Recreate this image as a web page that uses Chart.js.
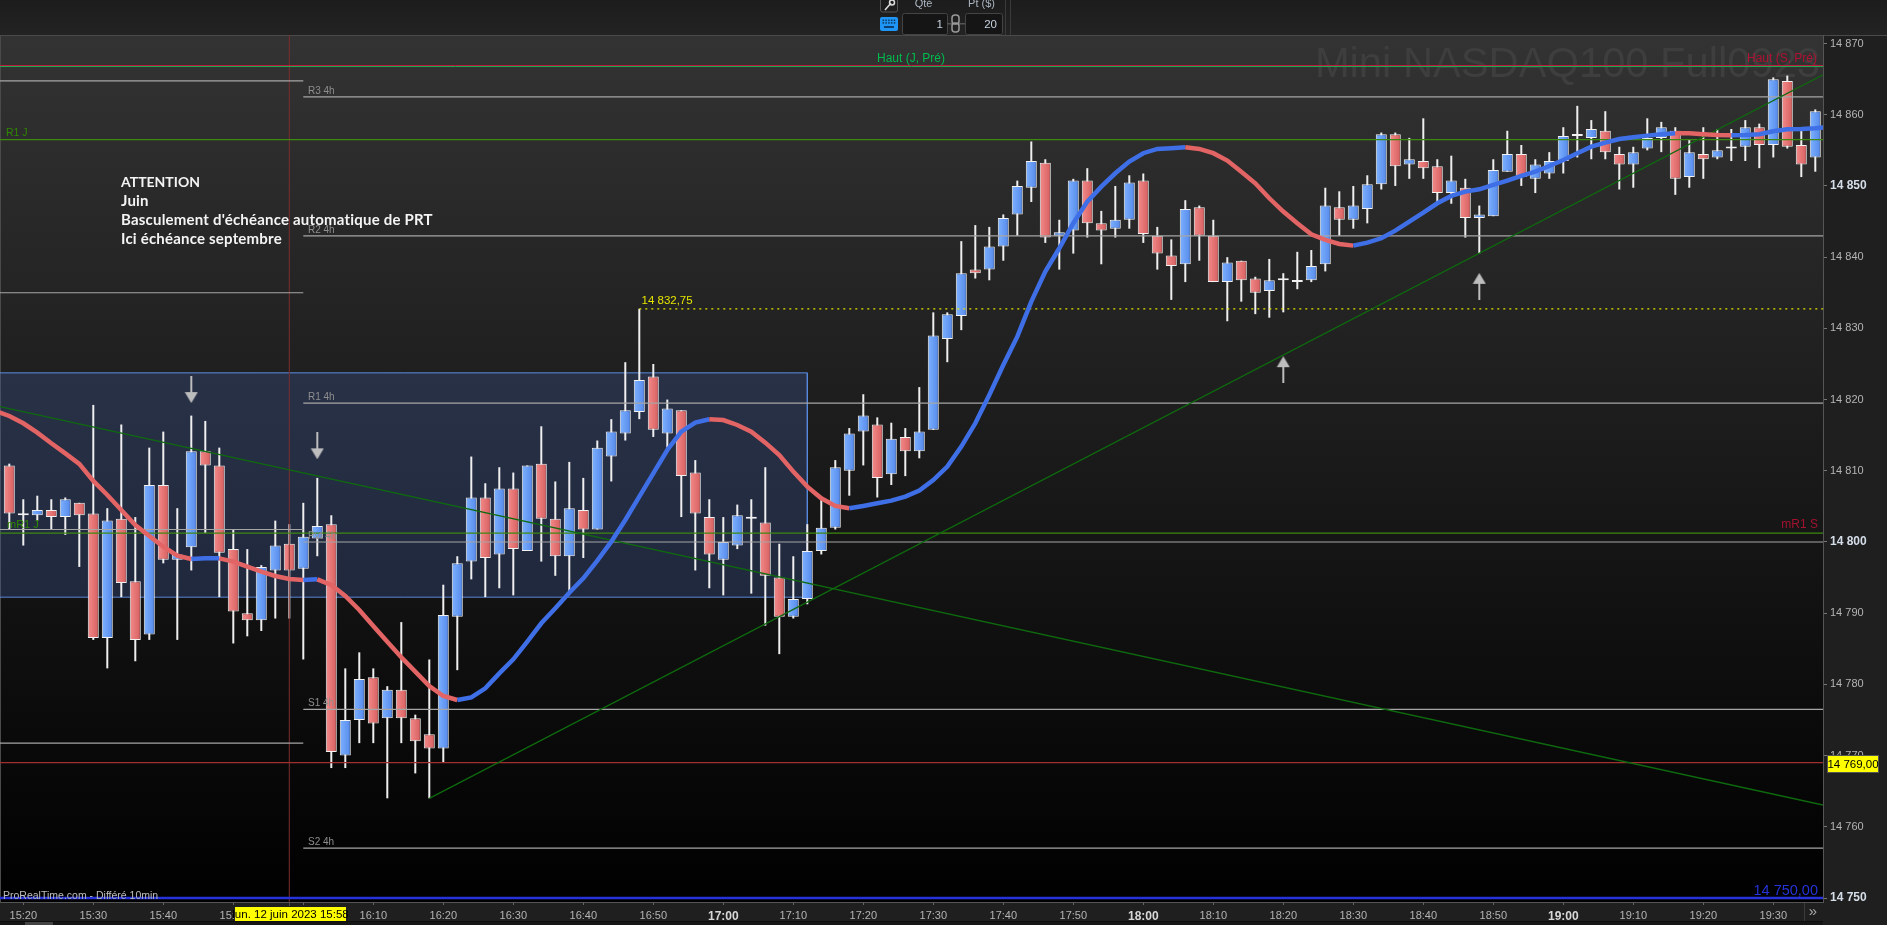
<!DOCTYPE html>
<html><head><meta charset="utf-8">
<style>html,body{margin:0;padding:0;background:#1f1f1f;overflow:hidden}canvas{display:block}</style>
<script src="https://cdn.jsdelivr.net/npm/chart.js@4"></script>
</head><body><canvas id="c" width="1887" height="925" style="width:1887px;height:925px"></canvas>
<script>
const opens=[14810.75,14804,14803.75,14804.5,14803.5,14805.5,14804,14786.5,14803.25,14794.5,14787,14808,14797.5,14799.25,14812.75,14810.75,14799,14790,14789,14796,14799.75,14796.25,14800.5,14802.5,14770,14775,14781,14775.25,14779.25,14775.25,14773,14771,14789.5,14797.25,14806.25,14798.25,14807.5,14798.75,14811,14803.25,14798,14804.5,14801.75,14812,14815.25,14818.25,14823.25,14815.25,14818.5,14809.75,14803.5,14797.5,14799.5,14803.25,14802.75,14795,14789.5,14792,14798.75,14802,14810,14815.5,14816.5,14809.5,14814.75,14812.75,14815.75,14828.5,14831.75,14838.25,14838.25,14841.5,14846,14849.75,14853.25,14843,14843.75,14850.75,14844.75,14844,14845.25,14850.75,14843,14840.25,14839,14847,14843,14836.5,14839.5,14837,14835.25,14836.75,14836.5,14836.75,14839,14847,14845.25,14846.75,14850.25,14857.25,14853,14853.5,14852.75,14849,14849.75,14845.5,14845.75,14852,14854.5,14851,14851.75,14853.5,14857,14856.75,14857.75,14854.5,14853,14855.25,14856.75,14857.75,14851.25,14854.5,14854,14855.25,14855.5,14858.25,14855.75,14864.75,14855.75,14854];
const highs=[14811,14806,14806.5,14806,14806.25,14805.5,14819.25,14804.75,14816.5,14803.5,14813.25,14815.5,14804.75,14817.75,14817,14813.25,14801.75,14799,14796.75,14803,14802.5,14805.5,14809,14803.75,14782.25,14784.5,14782.25,14779.75,14788.75,14775.75,14783.5,14794,14798,14812,14808.25,14810.5,14809.75,14810.75,14816.25,14808.5,14811.25,14809,14814.25,14817.25,14825.25,14832.75,14825,14820,14818.5,14811.5,14806,14803.5,14805.25,14806,14810.5,14799.75,14798,14802.5,14806,14811.5,14816,14820.75,14817.5,14816.75,14816,14821.75,14832.25,14832.25,14842.25,14844.5,14844.25,14846,14850.75,14856.25,14853.75,14845.25,14851,14852.5,14846.5,14850,14851.5,14851.75,14844.25,14842.5,14848,14847.25,14845.25,14840,14839.5,14837.25,14839.75,14837.75,14840.75,14841,14849.75,14849.25,14850,14851.5,14857.5,14857.5,14856.75,14859.5,14853.75,14854.25,14851,14847.25,14853.75,14857.75,14855.75,14853.75,14854.75,14858.25,14861.25,14859.25,14860.5,14855.5,14855.5,14859.5,14859,14858.25,14856.5,14858.25,14858,14858,14859.25,14858.75,14865.25,14865.5,14858.25,14860.75];
const lows=[14801.75,14799.5,14803,14801.75,14801,14796.5,14786.25,14782.25,14792.25,14783.25,14786.25,14797,14786.25,14796,14801.25,14792.25,14785.75,14786.75,14787.5,14789.25,14789.25,14783.5,14798,14768.25,14768.25,14771.75,14771.75,14764,14771.75,14767.5,14764,14769,14782,14794.75,14792.25,14793.5,14792.5,14798.75,14797.25,14795.25,14793,14797.75,14801.75,14808.5,14814.25,14817.25,14814.75,14813.25,14803.5,14796,14793.5,14792.5,14799,14792.75,14788.25,14784.25,14789.25,14791.25,14798.25,14801.75,14806.5,14810.75,14806.25,14808,14809.25,14811.75,14815.75,14825.25,14829.75,14837,14836.75,14839.5,14843,14847.75,14842,14838.25,14840.5,14842.75,14839,14842.75,14844,14842,14838.25,14834,14836.5,14839.5,14836.5,14831,14833.75,14832,14831.5,14832.25,14835.5,14836.5,14838,14843,14844,14844.75,14849.5,14850,14851,14851,14847.5,14847.5,14842.75,14840.5,14845.75,14852,14850,14849,14851,14851.75,14854,14853.75,14853.75,14849.5,14849.75,14855,14854.75,14848.75,14849.75,14851,14853.75,14853.5,14853.5,14852.5,14854,14855.25,14851.25,14852];
const closes=[14804,14803.75,14804.5,14803.5,14806,14803.75,14786.5,14803,14794.25,14786.25,14808,14797.5,14798.25,14812.75,14810.75,14798.5,14790.25,14789,14796.5,14799.5,14796,14800.75,14802.25,14770.5,14775,14780.75,14774.5,14779.25,14775.25,14772,14771,14789.75,14797,14806.25,14797.75,14807.5,14799,14810.75,14803.25,14798,14804.75,14801.75,14813.25,14815.5,14818.5,14822.75,14815.75,14818.75,14809.25,14804,14798.25,14800,14803.75,14803.5,14795.25,14789.5,14792,14798.75,14802,14810.5,14815.25,14817.75,14809,14814.5,14812.75,14815.5,14829,14832,14837.75,14837.75,14841.5,14845.5,14850,14853.5,14842.75,14843.5,14850.75,14844.75,14843.75,14845.25,14850.5,14843.25,14840.5,14838.75,14846.75,14843,14836.5,14839.25,14836.75,14835,14836.75,14836.75,14836.5,14838.75,14847.25,14845.25,14847.25,14850.25,14857.25,14852.75,14853.75,14852.5,14849,14850.75,14845.5,14846,14852.25,14854.5,14851.25,14853,14853.5,14857,14857,14858,14854.75,14853,14854.75,14856.75,14858.25,14851,14854.75,14853.75,14855,14855.5,14858.25,14855.75,14865,14855.5,14853,14860.5];
// moving average: first value sits one bar before the first candle, last value one bar after the last candle
const maValues=[14818.4,14817.7,14816.67,14815.36,14813.86,14812.45,14810.96,14808.57,14806.6,14804.5,14802.39,14800.84,14799.34,14798.08,14797.61,14797.7,14797.7,14797.24,14796.54,14795.83,14795.22,14794.8,14794.66,14794.76,14793.96,14792.42,14790.45,14788.2,14786,14783.8,14781.79,14779.78,14778.37,14777.81,14778.18,14779.45,14781.55,14783.52,14786,14788.58,14790.68,14792.88,14794.9,14797.38,14800.05,14803.09,14806.37,14809.64,14812.92,14815.5,14816.76,14817.23,14817.13,14816.43,14815.5,14813.95,14812.22,14809.88,14807.77,14806.13,14805.06,14804.73,14805.06,14805.43,14805.81,14806.37,14807.21,14808.7,14810.58,14813.39,14816.67,14820.65,14824.86,14828.84,14833.75,14837.97,14841.25,14844.76,14847.8,14849.9,14851.78,14853.42,14854.6,14855.2,14855.3,14855.43,14855.2,14854.6,14853.56,14852,14850.37,14848.27,14846.4,14844.76,14843.2,14842.42,14841.85,14841.62,14842.04,14842.65,14843.73,14845,14846.25,14847.57,14848.6,14849.2,14849.53,14850.14,14850.75,14851.4,14852.01,14852.8,14853.65,14854.59,14855.52,14856.09,14856.6,14856.84,14857.07,14857.26,14857.4,14857.4,14857.26,14857.16,14857.12,14857.16,14857.26,14857.68,14857.96,14858,14858.1,14858.3];
const maBlueRanges=[[13,15],[21,22],[32,50],[60,84],[96,119],[123,130]];
const xTickLabels=['15:20','15:30','15:40','15:50','16:00','16:10','16:20','16:30','16:40','16:50','17:00','17:10','17:20','17:30','17:40','17:50','18:00','18:10','18:20','18:30','18:40','18:50','19:00','19:10','19:20','19:30'];
const xBoldLabels=['17:00','18:00','19:00'];
const yTickValues=[14750,14760,14770,14780,14790,14800,14810,14820,14830,14840,14850,14860,14870];
const yTickLabels=['14 750','14 760','14 770','14 780','14 790','14 800','14 810','14 820','14 830','14 840','14 850','14 860','14 870'];
const yBoldValues=[14750,14800,14850];
const hautJ=14866.77, hautS=14866.91, r1J=14856.5, mr1J=14801.25, support=14769, floorLine=14750, topHigh=14832.75;
const pivot4hNames=['R3 4h','R2 4h','R1 4h','Pvt 4h','S1 4h','S2 4h'];
const pivot4hPrices=[14862.5,14843,14819.5,14800,14776.5,14757];
const oldPivotPrices=[14864.75,14835,14801.75,14771.75];
const boxPrices=[14823.75,14792.25];
const boxEndBar=57, crossBar=20, pivotStartBar=21;
const trendDownBars=[-0.66,129.55], trendDownPrices=[14819,14763.06];
const trendUpBars=[30,129.55], trendUpPrices=[14764,14865.6];
const arrowDownBars=[13,22], arrowDownPrices=[14821.4,14813.5];
const arrowUpBars=[91,105], arrowUpPrices=[14824.2,14835.9];
const noteLines=['ATTENTION','Juin',"Basculement d'échéance automatique de PRT",'Ici échéance septembre'];

const barIdx=opens.map((_,i)=>i);
const FONT='"Liberation Sans", Arial, sans-serif';
const BLUE_A='#7db2ff',BLUE_B='#5488ea',RED_A='#f48b8b',RED_B='#d65e5e';
function isBlueSeg(i){return maBlueRanges.some(r=>i>=r[0]&&i<r[1]);}
function seg(xs,ys,color,width,extra){return Object.assign({type:'line',data:xs.map((x,k)=>({x,y:ys[k]})),borderColor:color,borderWidth:width,pointRadius:0,tension:0,fill:false,order:5},extra||{});}
function makeArrow(up){
  const c=document.createElement('canvas');c.width=14;c.height=27;const g=c.getContext('2d');
  g.fillStyle='#bdbdbd';
  if(up){g.beginPath();g.moveTo(7,0);g.lineTo(13.5,11);g.lineTo(0.5,11);g.closePath();g.fill();g.fillRect(6,11,2,16);}
  else{g.fillRect(6,0,2,16);g.beginPath();g.moveTo(7,27);g.lineTo(13.5,16);g.lineTo(0.5,16);g.closePath();g.fill();}
  return c;
}
function bodyFill(ctx){
  const i=ctx.dataIndex, ch=ctx.chart;
  if(i===undefined) return BLUE_A;
  if(opens[i]===closes[i]) return '#f2f2f2';
  const up=closes[i]>opens[i];
  const px=ch.scales.x?ch.scales.x.getPixelForValue(i):NaN;
  if(!Number.isFinite(px)) return up?BLUE_A:RED_A;
  const g=ch.ctx.createLinearGradient(px-5.5,0,px+5.5,0);
  g.addColorStop(0,up?BLUE_A:RED_A);g.addColorStop(1,up?BLUE_B:RED_B);
  return g;
}
const isBoldX=c=>c.tick&&xBoldLabels.includes(xTickLabels[(c.tick.value-1)/5]);
const isBoldY=c=>c.tick&&yBoldValues.includes(c.tick.value);
const datasets=[
  {type:'bar',data:barIdx.map(i=>({x:i,y:[opens[i],closes[i]]})),backgroundColor:bodyFill,borderColor:'#f2f2f2',borderWidth:1,borderSkipped:false,barThickness:11,minBarLength:2,inflateAmount:0,grouped:false,order:10},
  {type:'bar',data:barIdx.map(i=>({x:i,y:[lows[i],highs[i]]})),backgroundColor:'#efefef',borderWidth:0,barThickness:2,inflateAmount:0,grouped:false,order:11},
  seg([-1,boxEndBar],[boxPrices[0],boxPrices[0]],'#5b8de0',1,{fill:{value:boxPrices[1]},backgroundColor:'rgba(66,92,165,0.30)',order:20}),
  seg([boxEndBar,boxEndBar,-1],[boxPrices[0],boxPrices[1],boxPrices[1]],'#5b8de0',1,{order:20}),
  seg([crossBar,crossBar],[14740,14880],'#7c2e2e',1,{order:6}),
  seg([-1,131],[hautS,hautS],'#c4163a',1),
  seg([-1,131],[hautJ,hautJ],'#17b354',1),
  seg([-1,131],[r1J,r1J],'#3c8a10',1.2),
  seg([-1,131],[mr1J,mr1J],'#3c8a10',1.2),
  seg([-1,131],[support,support],'#a03030',1.2),
  seg([-1,131],[floorLine,floorLine],'#2533d8',2.6),
  seg([45,131],[topHigh,topHigh],'#e4e400',1.2,{borderDash:[2,4]}),
  ...pivot4hPrices.map(p=>seg([pivotStartBar,131],[p,p],'#a6a6a6',1.2)),
  ...oldPivotPrices.map(p=>seg([-1,pivotStartBar],[p,p],'#a6a6a6',1.2)),
  seg(trendDownBars,trendDownPrices,'#0e6a0e',1.3,{order:4}),
  seg(trendUpBars,trendUpPrices,'#0e6a0e',1.3,{order:4}),
  {type:'line',data:maValues.map((v,k)=>({x:k-1,y:v})),borderColor:'#e26464',borderWidth:4.5,pointRadius:0,tension:0,fill:false,order:1,
    segment:{borderColor:c=>isBlueSeg(c.p0DataIndex-1)?'#3f6fe6':'#e26464'}},
  {type:'scatter',data:arrowDownBars.map((x,k)=>({x,y:arrowDownPrices[k]})),pointStyle:makeArrow(false),order:0},
  {type:'scatter',data:arrowUpBars.map((x,k)=>({x,y:arrowUpPrices[k]})),pointStyle:makeArrow(true),order:0}
];
function txt(g,s,x,y,font,color,align){g.font=font;g.fillStyle=color;g.textAlign=align||'left';g.textBaseline='middle';g.fillText(s,x,y);}
const scenePlugin={id:'scene',
  beforeDraw(ch){
    const g=ch.ctx,a=ch.chartArea;
    g.save();
    g.fillStyle='#1f1f1f';g.fillRect(0,0,ch.width,ch.height);
    const t=g.createLinearGradient(0,0,0,35);t.addColorStop(0,'#1c1c1c');t.addColorStop(1,'#232323');
    g.fillStyle=t;g.fillRect(0,0,ch.width,35);
    const bg=g.createLinearGradient(0,a.top,0,a.bottom);bg.addColorStop(0,'#333333');bg.addColorStop(1,'#000000');
    g.fillStyle=bg;g.fillRect(a.left,a.top,a.right-a.left,a.bottom-a.top);
    g.fillStyle='#4a4a4a';g.fillRect(0,35,ch.width,1);g.fillRect(0,35,1,a.bottom-35);
    txt(g,'Mini NASDAQ100 Full0923',1820,66,'41.7px '+FONT,'#3e3e3e','right');
    g.restore();
  },
  afterDatasetsDraw(ch){
    const g=ch.ctx,y=ch.scales.y;
    g.save();
    const dim='#8e8e8e',small='10px '+FONT;
    txt(g,'Haut (J, Pré)',877,58.5,'12px '+FONT,'#00bb4e');
    txt(g,'Haut (S, Pré)',1817,58.5,'12px '+FONT,'#b01233','right');
    txt(g,'R1 J',6,y.getPixelForValue(r1J)-7,'10.5px '+FONT,'#2f8a00');
    txt(g,'mR1 J',7,y.getPixelForValue(mr1J)-8,'11px '+FONT,'#2f8a00');
    txt(g,'mR1 S',1818,y.getPixelForValue(mr1J)-8,'12px '+FONT,'#a3122f','right');
    pivot4hNames.forEach((n,k)=>txt(g,n,308,y.getPixelForValue(pivot4hPrices[k])-6,small,dim));
    txt(g,'14 832,75',641.5,y.getPixelForValue(topHigh)-7.5,'11.5px '+FONT,'#e4e400');
    noteLines.forEach((s,k)=>{
      g.letterSpacing=k===0?'0px':'0.2px';
      txt(g,s,121,182+k*19.2,(k===0?'bold 14px':'bold 15px')+' Lato, sans-serif','#f4f4f4');
    });
    g.letterSpacing='0px';
    txt(g,'ProRealTime.com - Différé 10min',3,896,'10.5px '+FONT,'#bdbdbd');
    txt(g,'14 750,00',1818,890.5,'14.5px '+FONT,'#2533d8','right');
    g.restore();
  },
  afterDraw(ch){
    const g=ch.ctx,a=ch.chartArea;
    g.save();
    // price flag on the axis
    g.fillStyle='#ffff00';g.fillRect(1828,756,50,16);g.strokeStyle='#555';g.lineWidth=1;g.strokeRect(1827.5,755.5,51,17);
    txt(g,'14 769,00',1853,764.5,'11.5px '+FONT,'#000','center');
    // date flag
    g.fillStyle='#ffff00';g.fillRect(235,907,111,14);
    txt(g,'lun. 12 juin 2023 15:58',290.5,914.5,'11.5px '+FONT,'#000','center');
    g.fillStyle='#4c4c4c';g.fillRect(289,902,1,4);
    // bottom strip, scrollbar and the >> button
    g.fillStyle='#0f0f0f';g.fillRect(0,921,1823,1);
    g.fillStyle='#161616';g.fillRect(0,922,1823,3);
    g.fillStyle='#444';g.fillRect(25,922,28,3);
    g.fillStyle='#3a3a3a';g.fillRect(1804,903,1,18);
    txt(g,'»',1813,912,'15px '+FONT,'#aaa','center');
    // toolbar
    g.strokeStyle='#3a3a3a';g.beginPath();g.moveTo(1005.5,0);g.lineTo(1005.5,35);g.moveTo(1010.5,0);g.lineTo(1010.5,35);g.stroke();
    txt(g,'Qté',923.5,4,'11px '+FONT,'#aab4c0','center');
    txt(g,'Pt ($)',981.5,4,'11px '+FONT,'#aab4c0','center');
    g.fillStyle='#151515';g.strokeStyle='#444';
    [[902,13,45,21],[965,13,37,21]].forEach(b=>{g.beginPath();g.roundRect(b[0]+.5,b[1]+.5,b[2],b[3],2);g.fill();g.stroke();});
    txt(g,'1',943,25,'11.5px '+FONT,'#c6d2e0','right');
    txt(g,'20',997,25,'11.5px '+FONT,'#c6d2e0','right');
    g.fillStyle='#1f96f5';g.beginPath();g.roundRect(880,17,18,14,2);g.fill();
    g.fillStyle='#0b3f70';for(let r=0;r<2;r++)for(let c=0;c<5;c++)g.fillRect(882.5+c*2.8,19.5+r*2.6,1.6,1.6);
    g.fillRect(884,26,10,2);
    g.strokeStyle='#555';g.beginPath();g.roundRect(880.5,-3,17,15,2);g.stroke();
    g.strokeStyle='#ddd';g.lineWidth=1.5;g.beginPath();g.moveTo(885,10);g.lineTo(891,3);g.stroke();g.beginPath();g.arc(892,2.5,2.5,0,6.3);g.stroke();
    g.lineWidth=1;g.fillStyle='#555';g.fillRect(947,23,18,1.5);
    g.strokeStyle='#999';g.lineWidth=1.5;g.beginPath();g.roundRect(952,15,7,9,3);g.stroke();g.beginPath();g.roundRect(952,23,7,9,3);g.stroke();
    g.restore();
  }
};
new Chart(document.getElementById('c'),{
  type:'bar',
  data:{datasets},
  options:{
    responsive:false,animation:false,devicePixelRatio:1,
    layout:{autoPadding:false,padding:{top:35,left:0,right:0,bottom:0}},
    plugins:{legend:{display:false},tooltip:{enabled:false},title:{display:false}},
    scales:{
      x:{type:'linear',offset:false,position:'bottom',min:-0.664,max:129.55,
        afterFit(s){s.height=23;s.paddingLeft=0;s.paddingRight=0;},
        afterBuildTicks(s){s.ticks=xTickLabels.map((_,k)=>({value:1+5*k}));},
        grid:{offset:false,drawOnChartArea:false,drawTicks:true,tickLength:3,tickColor:'#666'},
        border:{color:'#555',width:1},
        ticks:{autoSkip:false,maxRotation:0,minRotation:0,padding:4,color:c=>isBoldX(c)?'#d8d8d8':'#b4b4b4',
          font:c=>isBoldX(c)?{family:FONT,size:12,weight:'bold'}:{family:FONT,size:11},
          callback:v=>xTickLabels[(v-1)/5]}},
      y:{type:'linear',position:'right',min:14749.44,max:14871.2,
        afterFit(s){s.width=64;s.paddingTop=0;s.paddingBottom=0;},
        afterBuildTicks(s){s.ticks=yTickValues.map(v=>({value:v}));},
        grid:{drawOnChartArea:false,drawTicks:true,tickLength:4,tickColor:'#777'},
        border:{color:'#555',width:1},
        ticks:{autoSkip:false,padding:3,color:c=>isBoldY(c)?'#d4dde8':'#b4b4b4',
          font:c=>isBoldY(c)?{family:FONT,size:12,weight:'bold'}:{family:FONT,size:11},
          callback:v=>yTickLabels[yTickValues.indexOf(v)]}}
    }
  },
  plugins:[scenePlugin]
});
</script></body></html>
